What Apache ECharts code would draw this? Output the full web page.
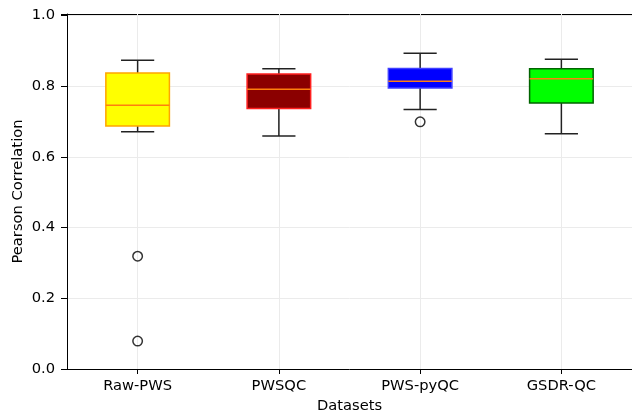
<!DOCTYPE html>
<html>
<head>
<meta charset="utf-8">
<script src="https://cdn.jsdelivr.net/npm/echarts@6/dist/echarts.min.js"></script>
<style>html,body{margin:0;padding:0;background:#fff}#c{width:632px;height:414px}</style>
</head>
<body>
<div id="c"></div>
<script>
const categories = ['Raw-PWS', 'PWSQC', 'PWS-pyQC', 'GSDR-QC'];
// [lower whisker, Q1, median, Q3, upper whisker]
const boxStats = [
  [0.671, 0.687, 0.746, 0.837, 0.873],
  [0.659, 0.737, 0.791, 0.834, 0.849],
  [0.734, 0.795, 0.814, 0.850, 0.893],
  [0.665, 0.752, 0.821, 0.849, 0.876]
];
const outliers = [
  ['Raw-PWS', 0.319],
  ['Raw-PWS', 0.079],
  ['PWS-pyQC', 0.699]
];
const fillColors = ['#ffff00', '#8b0000', '#0000ff', '#00ff00'];
const edgeColors = ['#ffa500', '#ff2020', '#4040ff', '#006400'];
const yTicks = [0, 0.2, 0.4, 0.6, 0.8, 1.0];

const font = 'DejaVu Sans';
const fs = 14.7;
const chart = echarts.init(document.getElementById('c'), null, {renderer: 'canvas'});

const boxData = boxStats.map((s, i) => [i].concat(s));

chart.setOption({
  animation: false,
  backgroundColor: '#fff',
  grid: {left: 67, right: 0, top: 14, bottom: 45, containLabel: false, outerBoundsMode: 'none'},
  xAxis: [{
    type: 'category',
    data: categories,
    position: 'bottom',
    boundaryGap: true,
    axisLine: {show: true, lineStyle: {color: '#000', width: 1}},
    axisTick: {show: true, alignWithLabel: true, length: 5, lineStyle: {color: '#000'}},
    axisLabel: {color: '#000', fontFamily: font, fontSize: fs, margin: 10},
    splitLine: {show: false},
    name: 'Datasets',
    nameLocation: 'middle',
    nameGap: 30,
    nameMoveOverlap: false,
    nameTextStyle: {color: '#000', fontFamily: font, fontSize: fs}
  }, {
    type: 'category',
    data: categories,
    position: 'top',
    axisLine: {show: true, lineStyle: {color: '#000', width: 1}},
    axisTick: {show: false},
    axisLabel: {show: false},
    splitLine: {show: false}
  }],
  yAxis: {
    type: 'value',
    min: 0,
    max: 1.004,
    interval: 0.2,
    axisLine: {show: true, lineStyle: {color: '#000', width: 1}},
    axisTick: {show: true, length: 6, lineStyle: {color: '#000'}},
    axisLabel: {
      color: '#000', fontFamily: font, fontSize: fs, margin: 12,
      padding: [4, 0, 0, 0],
      formatter: v => yTicks.some(t => Math.abs(t - v) < 1e-6) ? v.toFixed(1) : ''
    },
    splitLine: {show: true, lineStyle: {color: '#ebebeb', width: 1}},
    name: 'Pearson Correlation',
    nameLocation: 'middle',
    nameGap: 41,
    nameMoveOverlap: false,
    nameTextStyle: {color: '#000', fontFamily: font, fontSize: fs}
  },
  series: [{
    type: 'custom',
    z: 3,
    data: boxData,
    renderItem: function (params, api) {
      const i = api.value(0);
      const lw = api.value(1), q1 = api.value(2), med = api.value(3), q3 = api.value(4), uw = api.value(5);
      const band = api.size([1, 0])[0];
      const bw = band * 0.45;
      const cw = band * 0.235;
      const pLw = api.coord([i, lw]), pQ1 = api.coord([i, q1]), pMed = api.coord([i, med]);
      const pQ3 = api.coord([i, q3]), pUw = api.coord([i, uw]);
      const x = pQ1[0];
      const wStyle = {stroke: '#222', lineWidth: 1.5};
      return {
        type: 'group',
        children: [
          {type: 'line', shape: {x1: x, y1: pQ1[1], x2: x, y2: pLw[1]}, style: wStyle},
          {type: 'line', shape: {x1: x, y1: pQ3[1], x2: x, y2: pUw[1]}, style: wStyle},
          {type: 'line', shape: {x1: x - cw / 2, y1: pLw[1], x2: x + cw / 2, y2: pLw[1]}, style: wStyle},
          {type: 'line', shape: {x1: x - cw / 2, y1: pUw[1], x2: x + cw / 2, y2: pUw[1]}, style: wStyle},
          {type: 'rect', shape: {x: x - bw / 2, y: pQ3[1], width: bw, height: pQ1[1] - pQ3[1]},
            style: {fill: fillColors[i], stroke: edgeColors[i], lineWidth: 1.5}},
          {type: 'line', shape: {x1: x - bw / 2, y1: pMed[1], x2: x + bw / 2, y2: pMed[1]},
            style: {stroke: '#ff7f0e', lineWidth: 1.6}}
        ]
      };
    },
    markLine: {
      silent: true,
      symbol: 'none',
      label: {show: false},
      lineStyle: {color: '#ebebeb', width: 1, type: 'solid'},
      z: 1,
      data: categories.map(c => ({xAxis: c}))
    }
  }, {
    type: 'scatter',
    z: 4,
    data: outliers,
    symbol: 'circle',
    symbolSize: 9.5,
    itemStyle: {color: 'rgba(0,0,0,0)', borderColor: '#000', borderWidth: 1.5}
  }]
});
</script>
</body>
</html>
